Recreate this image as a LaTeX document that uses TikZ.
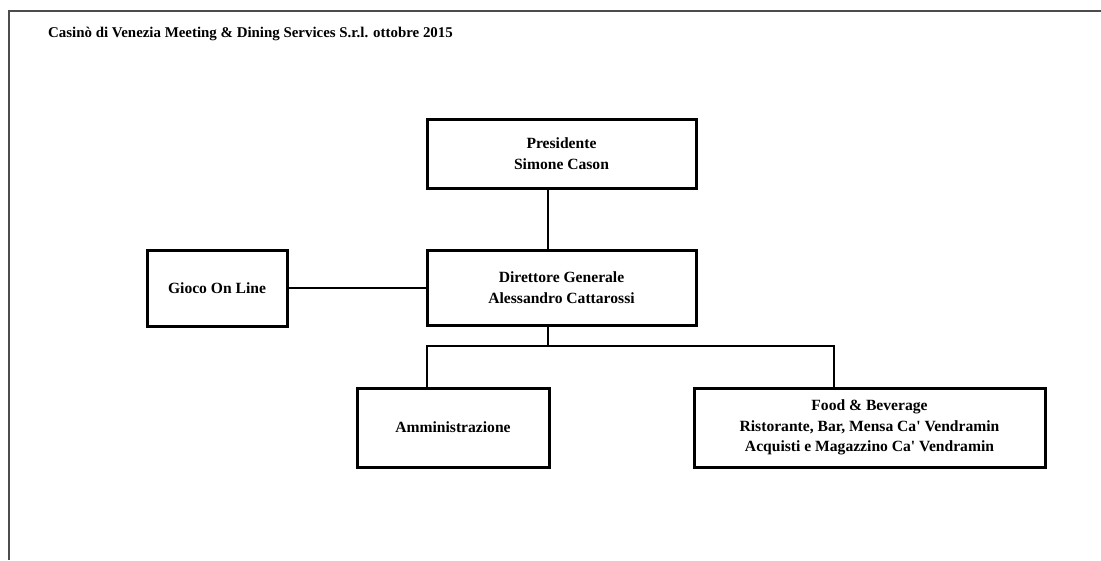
\documentclass[tikz,border=0pt]{standalone}
\usepackage{fontspec}
\setmainfont{Liberation Serif}
\begin{document}
\begin{tikzpicture}[x=1pt,y=-1pt,
  box/.style={draw=black, line width=3pt, inner sep=0pt, align=center,
    font=\fontsize{15.6}{20.5}\selectfont\bfseries},
  conn/.style={draw=black, line width=1.4pt}]
\useasboundingbox (0,0) rectangle (1101,560);
\draw[line width=2pt, black!70] (1101,11) -- (9,11) -- (9,560);
\node[anchor=base west, inner sep=0pt, font=\fontsize{14.9}{17}\selectfont\bfseries] (title) at (48,37)
  {Casinò di Venezia Meeting \& Dining Services S.r.l. ottobre 2015};
\node[box, minimum width=269pt, minimum height=69pt] (pres) at (561.5,153.5)
  {Presidente\\Simone Cason};
\node[box, minimum width=269pt, minimum height=75pt] (dir) at (561.5,287.5)
  {Direttore Generale\\Alessandro Cattarossi};
\node[box, minimum width=140pt, minimum height=76pt] (gioco) at (217,288)
  {Gioco On Line};
\node[box, minimum width=192pt, minimum height=79pt] (amm) at (453,427.5)
  {Amministrazione};
\node[box, minimum width=351pt, minimum height=79pt] (food) at (869.5,427.5)
  {Food \& Beverage\\Ristorante, Bar, Mensa Ca\textquotesingle{} Vendramin\\Acquisti e Magazzino Ca\textquotesingle{} Vendramin};
\coordinate (bus) at (548,346);
\coordinate (bl) at (427,346);
\coordinate (br) at (834,346);
\draw[conn] (pres.south -| bus) -- (dir.north -| bus);
\draw[conn] (gioco.east) -- (gioco.east -| dir.west);
\draw[conn] (dir.south -| bus) -- (bus);
\draw[conn] (bl |- amm.north) -- (bl) -- (br) -- (br |- food.north);
\end{tikzpicture}
\end{document}
